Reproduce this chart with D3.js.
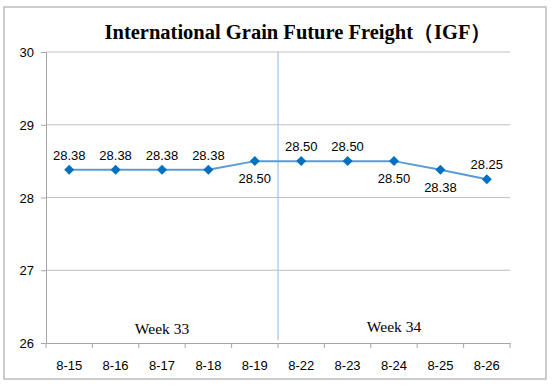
<!DOCTYPE html>
<html>
<head>
<meta charset="utf-8">
<script src="https://cdn.jsdelivr.net/npm/d3@7"></script>
<style>
  body { margin: 0; background: #fff; }
  svg { display: block; }
</style>
</head>
<body>
<svg class="igf" width="554" height="387"></svg>
<script>
const dates = ['8-15', '8-16', '8-17', '8-18', '8-19', '8-22', '8-23', '8-24', '8-25', '8-26'];
const freight = [28.38, 28.38, 28.38, 28.38, 28.50, 28.50, 28.50, 28.50, 28.38, 28.25];
// where the value label sits
const labelSide = ['up', 'up', 'up', 'up', 'down', 'up', 'up', 'down', 'down', 'up'];
const yTicks = [26, 27, 28, 29, 30];
const weeks = [
    { name: 'Week 33', from: '8-15', to: '8-19' },
    { name: 'Week 34', from: '8-22', to: '8-26' }
];

const svg = d3.select('.igf');
const width = +svg.attr('width');
const height = +svg.attr('height');

const margin = { top: 52, right: 44, bottom: 44, left: 46 };
const innerWidth = width - margin.left - margin.right;
const innerHeight = height - margin.top - margin.bottom;
const sans = '"Liberation Sans", Arial, sans-serif';
const serif = '"Liberation Serif", "Times New Roman", serif';

// chart frame
svg.append('rect')
    .attr('x', 4).attr('y', 7)
    .attr('width', 542).attr('height', 372)
    .attr('fill', 'none')
    .attr('stroke', '#bcbcbc')
    .attr('stroke-width', 1.5);

svg.append('text')
    .attr('x', 298)
    .attr('y', 39)
    .attr('text-anchor', 'middle')
    .attr('font-family', serif)
    .attr('font-weight', 'bold')
    .attr('font-size', 20.5)
    .text('International Grain Future Freight（IGF）');

const xScale = d3.scaleBand()
    .domain(dates)
    .range([0, innerWidth]);

const yScale = d3.scaleLinear()
    .domain([26, 30])
    .range([innerHeight, 0]);

const g = svg.append('g')
    .attr('transform', `translate(${margin.left}, ${margin.top})`);

// horizontal grid
g.append('g')
    .selectAll('line')
    .data(yTicks.slice(1))
    .join('line')
    .attr('x1', 0)
    .attr('x2', innerWidth)
    .attr('y1', d => yScale(d))
    .attr('y2', d => yScale(d))
    .attr('stroke', '#bfbfbf')
    .attr('stroke-width', 1);

const yAxis = g.append('g')
    .call(d3.axisLeft(yScale)
        .tickValues(yTicks)
        .tickFormat(d3.format('d'))
        .tickSize(5)
        .tickPadding(7));
yAxis.select('.domain').attr('stroke', '#a6a6a6').attr('fill', 'none');
yAxis.selectAll('.tick line').attr('stroke', '#a6a6a6');
yAxis.selectAll('.tick text')
    .attr('fill', '#000')
    .attr('text-anchor', 'end')
    .attr('font-family', sans)
    .attr('font-size', 13)
    .attr('dy', null)
    .attr('y', 4.5);

const xAxis = g.append('g')
    .attr('transform', `translate(0, ${innerHeight})`)
    .call(d3.axisBottom(xScale).tickSize(0).tickPadding(16));
xAxis.select('.domain').attr('stroke', '#a6a6a6').attr('fill', 'none');
xAxis.selectAll('.tick text')
    .attr('fill', '#000')
    .attr('text-anchor', 'middle')
    .attr('font-family', sans)
    .attr('font-size', 13)
    .attr('dy', null)
    .attr('y', 26.5);

// tick marks between categories
xAxis.append('g')
    .selectAll('line')
    .data(dates)
    .join('line')
    .attr('x1', d => xScale(d))
    .attr('x2', d => xScale(d))
    .attr('y1', 0)
    .attr('y2', 5)
    .attr('stroke', '#a6a6a6');
xAxis.append('line')
    .attr('x1', innerWidth).attr('x2', innerWidth)
    .attr('y1', 0).attr('y2', 5)
    .attr('stroke', '#a6a6a6');

// week divider
g.append('line')
    .attr('x1', xScale(weeks[1].from))
    .attr('x2', xScale(weeks[1].from))
    .attr('y1', yScale(30))
    .attr('y2', innerHeight - 3)
    .attr('stroke', '#9dc3e6')
    .attr('stroke-width', 1.2);

g.append('g')
    .selectAll('text')
    .data(weeks)
    .join('text')
    .attr('x', d => (xScale(d.from) + xScale(d.to) + xScale.bandwidth()) / 2)
    .attr('y', (d, i) => innerHeight - 9 - (i === 1 ? 2 : 0))
    .attr('text-anchor', 'middle')
    .attr('font-family', serif)
    .attr('font-size', 15.5)
    .text(d => d.name);

const points = dates.map((d, i) => ({ date: d, value: freight[i], side: labelSide[i] }));
const cx = d => xScale(d.date) + xScale.bandwidth() / 2;

g.append('path')
    .datum(points)
    .attr('fill', 'none')
    .attr('stroke', '#5b9bd5')
    .attr('stroke-width', 2)
    .attr('d', d3.line().x(cx).y(d => yScale(d.value)));

g.append('g')
    .selectAll('path')
    .data(points)
    .join('path')
    .attr('transform', d => `translate(${cx(d)}, ${yScale(d.value)}) rotate(45)`)
    .attr('d', d3.symbol(d3.symbolSquare, 50))
    .attr('fill', '#0070c0');

g.append('g')
    .selectAll('text')
    .data(points)
    .join('text')
    .attr('x', cx)
    .attr('y', d => yScale(d.value) + (d.side === 'up' ? -10 : 22))
    .attr('text-anchor', 'middle')
    .attr('font-family', sans)
    .attr('font-size', 13)
    .text(d => d.value.toFixed(2));
</script>
</body>
</html>
